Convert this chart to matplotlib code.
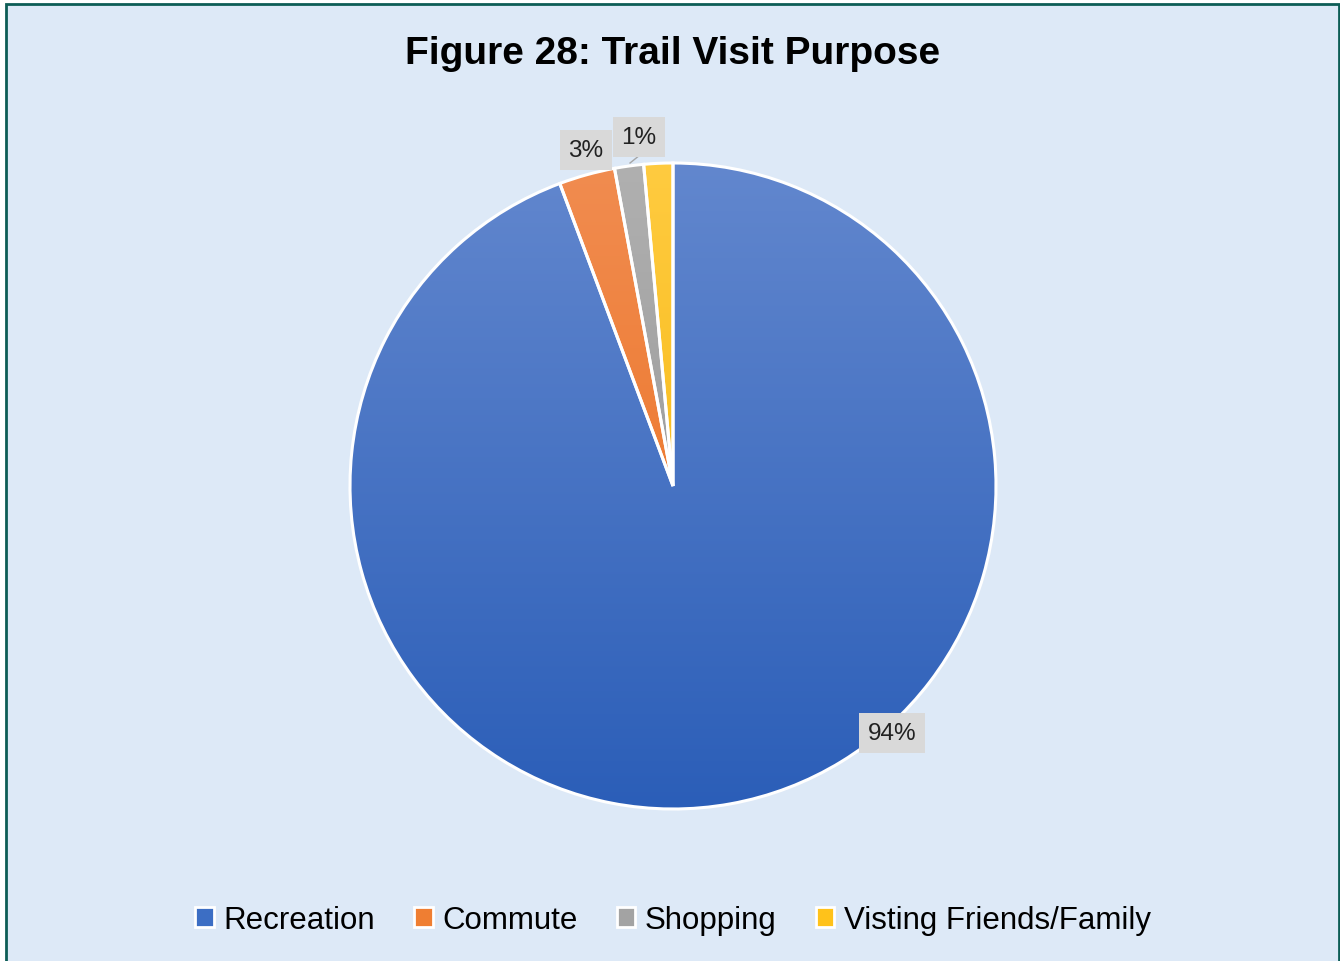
import numpy as np
from matplotlib import pyplot as plt
from matplotlib.patches import Patch, Rectangle
from matplotlib.colors import to_rgb

plt.rcParams['font.family'] = ['Liberation Sans Narrow', 'Liberation Sans',
                               'DejaVu Sans']

# survey shares (percent)
categories = ["Recreation", "Commute", "Shopping", "Visting Friends/Family"]
shares = [94.3, 2.8, 1.45, 1.45]
colors = ["#3c6ec4", "#ef7e32", "#a3a3a3", "#ffc21a"]
# gradient ends for each slice: top of pie / bottom of pie
grad_top = ["#6287ce", "#f18c50", "#b0b0b0", "#ffcb40"]
grad_bot = ["#2b5eb8", "#ea6c18", "#8c8c8c", "#f2b000"]
# which slices get a data label (last one is hidden)
show_label = [True, True, True, False]
label_xy = [(0.678, -0.765), (-0.269, 1.040), (-0.105, 1.080), None]

BG = "#dde9f7"

fig = plt.figure(figsize=(13.4, 9.62), dpi=100, facecolor="white")

# panel background with dark teal frame
frame = Rectangle((6 / 1340, -0.02), 1333 / 1340, 1 - 5 / 962 + 0.02,
                  transform=fig.transFigure, facecolor=BG,
                  edgecolor="#0d5d56", linewidth=2.0, zorder=-10)
fig.patches.append(frame)

R_PX = 323.0
cx, cy = 673.0, 487.0
half = 1.1 * R_PX
ax = fig.add_axes([(cx - half) / 1340, (962 - cy - half) / 962,
                   2 * half / 1340, 2 * half / 962], zorder=1)
ax.axis("off")

wedges, _ = ax.pie(shares, colors=colors, startangle=90, counterclock=False,
                   radius=1.0, center=(0, 0),
                   wedgeprops=dict(edgecolor="white", linewidth=2.2))

# vertical gradient fill per slice (lighter on top, darker at bottom)
ny = 256
t = np.linspace(0, 1, ny)[:, None, None]
for w, c0, c1 in zip(wedges, grad_top, grad_bot):
    top = np.array(to_rgb(c0))
    bot = np.array(to_rgb(c1))
    img = top[None, None, :] * (1 - t) + bot[None, None, :] * t
    img = np.repeat(img, 2, axis=1)
    im = ax.imshow(img, extent=(-1, 1, -1, 1), origin="upper",
                   interpolation="bilinear", zorder=1)
    im.set_clip_path(w)
    w.set_facecolor("none")
    w.set_zorder(2)
ax.set_xlim(-1.1, 1.1)
ax.set_ylim(-1.1, 1.1)
ax.set_aspect("equal")

# data labels
for val, show, xy in zip(shares, show_label, label_xy):
    if not show:
        continue
    ax.text(xy[0], xy[1], "{:.0f}%".format(val), ha="center", va="center",
            fontsize=17.5, color="#222222", zorder=5,
            bbox=dict(boxstyle="square,pad=0.36", facecolor="#d9d9d9",
                      edgecolor="none"))

# leader line for the shopping label
ax.plot([-0.133, -0.102], [1.000, 1.025], color="#a6a6a6", lw=1.0, zorder=4)

fig.text(673 / 1340, 1 - 54 / 962, "Figure 28: Trail Visit Purpose",
         ha="center", va="center", fontsize=28, fontweight="bold",
         color="black")

handles = [Patch(facecolor=c, edgecolor="white", linewidth=2.0) for c in colors]
fig.legend(handles, categories, loc="center", ncol=4,
           bbox_to_anchor=(673 / 1340, 1 - 921 / 962), frameon=False,
           fontsize=22.5, handlelength=0.6, handleheight=0.6,
           handletextpad=0.3, columnspacing=1.25, labelcolor="black")

fig.savefig("out.png", dpi=100, facecolor="white")
